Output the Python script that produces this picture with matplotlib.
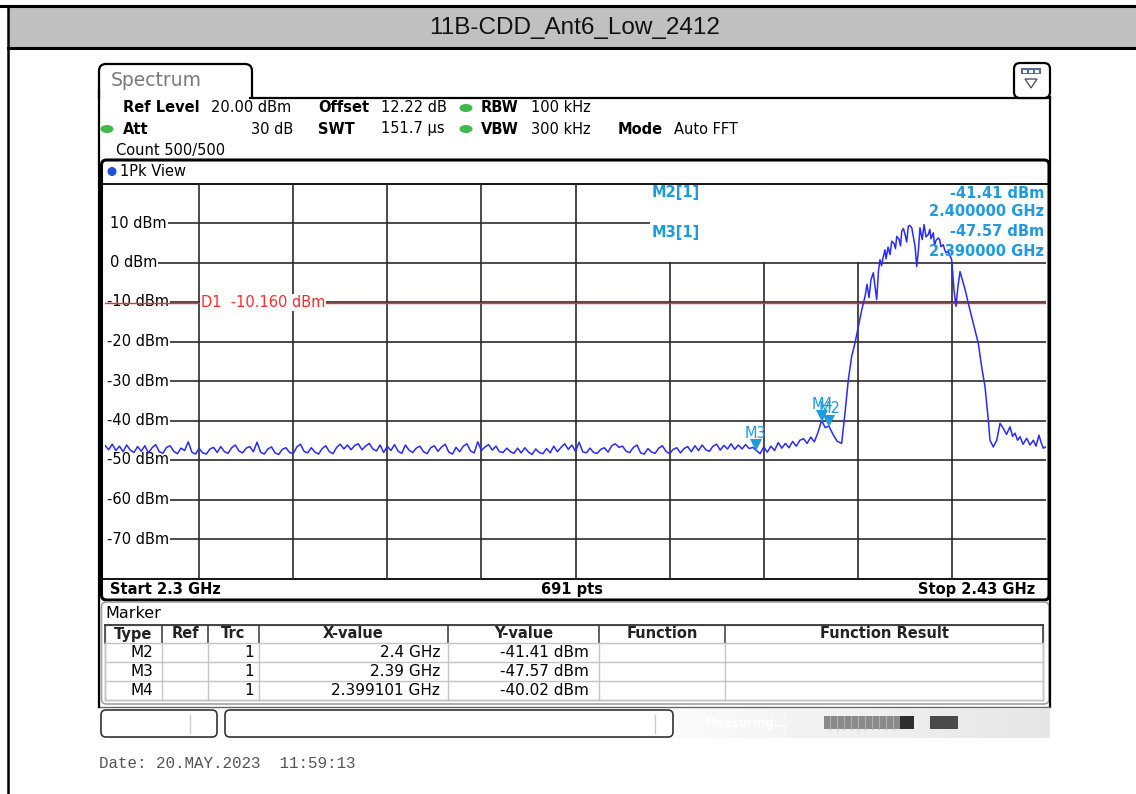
import numpy as np
import matplotlib

matplotlib.use("Agg")
import matplotlib.pyplot as plt
from matplotlib import transforms
from matplotlib.patches import Rectangle, FancyBboxPatch, Ellipse, Polygon

W, H = 1136, 794

TITLE = "11B-CDD_Ant6_Low_2412"

F_START, F_STOP = 2.300, 2.430
REF_LEVEL, BOTTOM_LEVEL = 20.0, -80.0
Y_TICKS = [10, 0, -10, -20, -30, -40, -50, -60, -70]
D1_LEVEL = -10.16

# trace, part 1: 0.5 MHz apart from 2.300 to 2.400 GHz
NOISE_START = 2.300
NOISE_STEP = 0.0005
NOISE_DBM = [
    -46.3, -47.4, -46.0, -47.6, -46.5, -47.9, -46.2, -47.5, -48.1, -46.6,
    -47.8, -46.4, -48.2, -46.9, -46.1, -47.9, -48.3, -46.8, -46.4, -47.8,
    -48.4, -47.0, -47.6, -45.4, -48.0, -48.5, -47.1, -48.2, -48.5, -47.2,
    -46.8, -48.1, -46.6, -47.9, -48.3, -46.9, -46.2, -47.7, -48.2, -47.0,
    -46.6, -47.9, -45.5, -48.0, -48.5, -47.2, -46.7, -48.2, -48.6, -47.3,
    -46.9, -48.1, -48.4, -46.7, -46.0, -47.8, -48.2, -46.9, -48.0, -48.5,
    -47.1, -46.4, -47.9, -48.4, -46.8, -46.0, -47.2, -46.2, -47.4, -46.3,
    -45.9, -47.4, -46.5, -45.8, -47.2, -47.7, -46.2, -48.1, -46.5, -47.6,
    -46.1, -47.8, -48.3, -46.2, -47.5, -48.1, -47.0, -46.5, -47.9, -48.4,
    -46.9, -46.4, -47.8, -46.7, -46.0, -48.0, -48.5, -46.8, -47.9, -46.5,
    -45.9, -47.7, -48.2, -45.4, -47.6, -46.7, -46.1, -47.5, -46.5, -47.9,
    -48.1, -47.0, -47.9, -48.3, -47.0, -48.2, -46.9, -48.0, -48.6, -47.2,
    -48.1, -48.4, -47.1, -48.2, -46.5, -47.9, -46.8, -45.9, -47.3, -46.2,
    -47.8, -45.5, -47.9, -48.2, -47.0, -48.1, -48.3, -47.3, -46.9, -48.0,
    -46.4, -45.9, -46.8, -46.5, -47.8, -48.1, -46.8, -46.2, -48.2, -48.5,
    -47.1, -48.0, -48.3, -47.0, -46.4, -47.8, -48.4, -47.3, -46.9, -48.2,
    -47.1, -46.6, -47.9, -46.4, -47.6, -46.2, -47.4, -47.8, -46.5, -46.0,
    -47.5, -46.3, -47.2, -45.9, -47.3, -46.2, -47.2, -46.1, -47.1, -46.8,
    -47.6, -48.4, -46.7, -48.0, -46.5, -47.6, -45.6, -47.0, -45.8, -46.9,
    -45.3, -46.5, -45.0, -44.6, -45.8, -44.2, -45.4, -43.0, -40.0, -41.8,
    -41.4,
]

# trace, part 2: channel and skirts, point by point
SIGNAL_GHZ = [
    2.40057, 2.40112, 2.40177, 2.40223, 2.40269, 2.40315, 2.40361, 2.40407,
    2.40454, 2.40500, 2.40527, 2.40555, 2.40582, 2.40614, 2.40638, 2.40661,
    2.40686, 2.40707, 2.40728, 2.40749, 2.40776, 2.40790, 2.40818, 2.40845,
    2.40869, 2.40901, 2.40920, 2.40938, 2.40970, 2.40990, 2.41007, 2.41030,
    2.41053, 2.41075, 2.41098, 2.41120, 2.41145, 2.41191, 2.41214, 2.41239,
    2.41259, 2.41290, 2.41315, 2.41342, 2.41374, 2.41395, 2.41411, 2.41443,
    2.41460, 2.41480, 2.41512, 2.41530, 2.41549, 2.41581, 2.41600, 2.41618,
    2.41650, 2.41697, 2.41729, 2.41756, 2.41784, 2.41812, 2.41857, 2.41894,
    2.41926, 2.41973, 2.42019, 2.42064, 2.42111, 2.42157, 2.42203, 2.42226,
    2.42272, 2.42319, 2.42365, 2.42410, 2.42455, 2.42503, 2.42538, 2.42572,
    2.42607, 2.42641, 2.42683, 2.42734, 2.42779, 2.42825, 2.42862, 2.42903,
    2.42931, 2.42963, 2.43000,
]
SIGNAL_DBM = [
    -43.5, -45.2, -45.8, -38.1, -29.7, -23.8, -20.4, -16.2,
    -12.0, -8.6, -5.5, -8.9, -4.4, -2.6, -6.0, -9.4,
    -2.0, 0.7, -0.8, 1.2, 3.2, 0.9, 3.9, 2.0,
    5.4, 4.8, 3.5, 6.6, 5.9, 4.2, 7.9, 8.6,
    7.1, 5.2, 9.2, 9.4, 8.8, 4.1, -1.0, 3.5,
    8.8, 5.8, 9.6, 6.5, 7.1, 8.4, 6.0, 7.5,
    4.2, 5.6, 6.2, 5.8, 4.0, 4.5, 3.2, 2.5,
    2.8, 0.7, -6.9, -11.1, -6.0, -2.3, -5.2, -7.7,
    -10.3, -13.7, -17.1, -20.4, -26.4, -31.4, -39.9, -45.0,
    -46.7, -45.0, -40.7, -42.0, -43.5, -41.6, -44.0, -43.2,
    -45.0, -44.1, -46.0, -44.5, -46.2, -45.0, -46.5, -43.7,
    -45.5, -47.0, -46.7,
]

MARKER_NAMES = ["M2", "M3", "M4"]
MARKER_GHZ = [2.4, 2.39, 2.399101]
MARKER_DBM = [-41.41, -47.57, -40.02]
MARKER_X_TEXT = ["2.4 GHz", "2.39 GHz", "2.399101 GHz"]
MARKER_Y_TEXT = ["-41.41 dBm", "-47.57 dBm", "-40.02 dBm"]

TABLE_HEADERS = ["Type", "Ref", "Trc", "X-value", "Y-value", "Function", "Function Result"]

BLUE_TXT = "#1e9ae0"
TRACE_BLUE = "#2a2aff"
D1_RED = "#ff2b2b"
GREEN = "#3dbb4a"
GRID = "#2b2b2b"

fig = plt.figure(figsize=(W / 100, H / 100), dpi=100)
bg = fig.add_axes([0, 0, 1, 1], zorder=0)
bg.set_xlim(0, W)
bg.set_ylim(H, 0)
bg.axis("off")

# pixel transform usable from every axes
PX = transforms.Affine2D().scale(1 / W, -1 / H).translate(0, 1) + fig.transFigure


def hline(x0, x1, y, **kw):
    bg.plot([x0, x1], [y, y], **kw)


def vline(x, y0, y1, **kw):
    bg.plot([x, x], [y0, y1], **kw)


# page frame + title band
bg.add_patch(Rectangle((8, 6), W - 8, 42, facecolor="#c0c0c0", edgecolor="none"))
hline(0, W, 6, color="black", lw=2.2)
hline(8, W, 48, color="black", lw=2.2)
vline(8, 6, H, color="black", lw=1.8)
bg.text(575, 28, TITLE, ha="center", va="center", fontsize=17.5,
        family="Liberation Sans", color="#111111")

# instrument window, tab and outline
bg.add_patch(FancyBboxPatch((99, 64), 153, 44, boxstyle="round,pad=0,rounding_size=7",
                            facecolor="white", edgecolor="black", lw=1.6))
bg.add_patch(Rectangle((97, 98.5), 157, 14, facecolor="white", edgecolor="none", zorder=3))
bg.text(111, 81, "Spectrum", fontsize=13.5, color="#7a7a7a", va="center", zorder=4)
hline(250, 1050, 97.5, color="black", lw=1.6, zorder=4)
vline(99, 90, 707, color="black", lw=1.6, zorder=4)
vline(1050, 97, 707, color="black", lw=1.6)
hline(99, 1050, 707, color="#666666", lw=1.0)

# menu icon top right
bg.add_patch(FancyBboxPatch((1014, 63), 36, 35, boxstyle="round,pad=0,rounding_size=6",
                            facecolor="white", edgecolor="black", lw=1.6, zorder=5))
bg.add_patch(Rectangle((1021, 68), 20, 6, facecolor="#5a6a9a", edgecolor="none", zorder=6))
for k in range(3):
    bg.add_patch(Rectangle((1023 + k * 6, 69.5), 4, 3, facecolor="white", edgecolor="none", zorder=7))
bg.add_patch(Polygon([[1025, 79], [1037, 79], [1031, 88]], closed=True, facecolor="white",
                     edgecolor="#556", lw=1.0, zorder=6))

# settings block
row1, row2, row3 = 108, 129, 150
fs = 10.5
bg.text(123, row1, "Ref Level", fontsize=fs, fontweight="bold", va="center")
bg.text(211, row1, "20.00 dBm", fontsize=fs, va="center")
bg.text(318, row1, "Offset", fontsize=fs, fontweight="bold", va="center")
bg.text(381, row1, "12.22 dB", fontsize=fs, va="center")
bg.text(481, row1, "RBW", fontsize=fs, fontweight="bold", va="center")
bg.text(531, row1, "100 kHz", fontsize=fs, va="center")
bg.text(123, row2, "Att", fontsize=fs, fontweight="bold", va="center")
bg.text(293, row2, "30 dB", fontsize=fs, va="center", ha="right")
bg.text(318, row2, "SWT", fontsize=fs, fontweight="bold", va="center")
bg.text(381, row2, "151.7 µs", fontsize=fs, va="center")
bg.text(481, row2, "VBW", fontsize=fs, fontweight="bold", va="center")
bg.text(531, row2, "300 kHz", fontsize=fs, va="center")
bg.text(618, row2, "Mode", fontsize=fs, fontweight="bold", va="center")
bg.text(674, row2, "Auto FFT", fontsize=fs, va="center")
bg.text(116, row3, "Count 500/500", fontsize=fs, va="center")
for cx, cy in [(466, row1), (107, row2), (466, row2)]:
    bg.add_patch(Ellipse((cx, cy), 13, 8, facecolor=GREEN, edgecolor="none"))

# diagram frame
bg.add_patch(FancyBboxPatch((101.5, 160), 947.5, 440, boxstyle="round,pad=0,rounding_size=5",
                            facecolor="white", edgecolor="black", lw=2.2))
bg.add_patch(Ellipse((112, 171.5), 9, 9, facecolor="#1f4fd8", edgecolor="none"))
bg.text(120, 171.5, "1Pk View", fontsize=fs, va="center")
hline(102, 1048, 183.5, color="black", lw=1.3)
hline(102, 1048, 578.5, color="black", lw=1.3)
bg.text(110, 589.5, "Start 2.3 GHz", fontsize=fs, fontweight="bold", va="center")
bg.text(572, 589.5, "691 pts", fontsize=fs, fontweight="bold", va="center", ha="center")
bg.text(1035, 589.5, "Stop 2.43 GHz", fontsize=fs, fontweight="bold", va="center", ha="right")

# spectrum axes
ax = fig.add_axes([105 / W, 1 - 578.5 / H, 941 / W, 395 / H], zorder=1)
ax.set_xlim(F_START, F_STOP)
ax.set_ylim(BOTTOM_LEVEL, REF_LEVEL)
ax.axis("off")
ax.patch.set_alpha(0)

step = (F_STOP - F_START) / 10
for i in range(1, 10):
    ax.axvline(F_START + i * step, color=GRID, lw=1.2, zorder=1)

level_labels = []
for lvl in Y_TICKS:
    t = ax.annotate(f"{lvl} dBm", xy=(F_START, lvl), xytext=(5 if lvl >= 0 else 2, 0),
                    textcoords="offset pixels", fontsize=fs, va="center", ha="left", zorder=1.5)
    level_labels.append((lvl, t))

# horizontal grid lines start right after their labels
fig.canvas.draw()
renderer = fig.canvas.get_renderer()
to_data = ax.transData.inverted()
for lvl, t in level_labels:
    bb = t.get_window_extent(renderer)
    x_from = to_data.transform((bb.x1 + 1, bb.y0))[0]
    ax.hlines(lvl, x_from, F_STOP, color=GRID, lw=1.2, zorder=1)

# marker readout box (white, hides grid) under the trace
ax.add_patch(Rectangle((650, 184.5), 396, 77.5, transform=PX, facecolor="white",
                       edgecolor="none", zorder=1.8, clip_on=False))

ax.axhline(D1_LEVEL, color=D1_RED, lw=1.0, zorder=1.7)
ax.annotate(f"D1  {D1_LEVEL:.3f} dBm", xy=(F_START + step, D1_LEVEL), xytext=(2, 0),
            textcoords="offset pixels", fontsize=fs, color=D1_RED, va="center", ha="left",
            bbox=dict(facecolor="white", edgecolor="none", pad=0.5), zorder=2)

noise_f = NOISE_START + NOISE_STEP * np.arange(len(NOISE_DBM))
trace_f = np.concatenate([noise_f, SIGNAL_GHZ])
trace_l = np.concatenate([NOISE_DBM, SIGNAL_DBM])
ax.plot(trace_f, trace_l, color=TRACE_BLUE, lw=1.1, zorder=3)

tri_tr = transforms.offset_copy(ax.transData, fig=fig, x=0, y=5, units="dots")
label_offsets = {"M2": (1, 10), "M3": (-1, 9), "M4": (0, 9)}
for name, f, l in zip(MARKER_NAMES, MARKER_GHZ, MARKER_DBM):
    ax.plot([f], [l], marker="v", markersize=8, color=BLUE_TXT, transform=tri_tr,
            zorder=4, clip_on=False, markeredgewidth=0)
    ax.annotate(name, xy=(f, l), xytext=label_offsets[name], textcoords="offset pixels",
                fontsize=10.5, color=BLUE_TXT, ha="center", va="bottom", zorder=4)

# marker readouts
mfs = 10.5
ax.text(652, 193, "M2[1]", transform=PX, fontsize=mfs, fontweight="bold", color=BLUE_TXT,
        va="center", zorder=4)
ax.text(652, 233, "M3[1]", transform=PX, fontsize=mfs, fontweight="bold", color=BLUE_TXT,
        va="center", zorder=4)
for yy, txt in [(193, MARKER_Y_TEXT[0]), (212, "2.400000 GHz"),
                (232, MARKER_Y_TEXT[1]), (252, "2.390000 GHz")]:
    ax.text(1044, yy, txt, transform=PX, fontsize=mfs, fontweight="bold", color=BLUE_TXT,
            va="center", ha="right", zorder=4)

# marker table
bg.add_patch(FancyBboxPatch((101.5, 602), 947.5, 102, boxstyle="round,pad=0,rounding_size=5",
                            facecolor="white", edgecolor="#a0a0a0", lw=1.2))
bg.text(105, 613, "Marker", fontsize=11.5, va="center")
col_edges = [105, 162, 208, 259, 448, 599, 725, 1043]
row_edges = [625, 643, 662, 681, 700]
bg.add_patch(Rectangle((105, 625), 938, 75, facecolor="white", edgecolor="#b0b0b0", lw=1.0))
hline(105, 1043, 625, color="#444444", lw=1.4)
for x in col_edges:
    vline(x, 625, 643, color="#444444", lw=1.2)
    vline(x, 643, 700, color="#c4c4c4", lw=1.0)
for y in row_edges[1:]:
    hline(105, 1043, y, color="#c4c4c4", lw=1.0)
for k, head in enumerate(TABLE_HEADERS):
    cx = (col_edges[k] + col_edges[k + 1]) / 2
    bg.text(cx, 634, head, fontsize=10.5, fontweight="bold",
            ha="center", va="center", color="#222222")
tfs = 11
for r, name in enumerate(MARKER_NAMES):
    cy = (row_edges[r + 1] + row_edges[r + 2]) / 2
    bg.text(col_edges[1] - 9, cy, name, fontsize=tfs, ha="right", va="center")
    bg.text(col_edges[3] - 5, cy, "1", fontsize=tfs, ha="right", va="center")
    bg.text(col_edges[4] - 8, cy, MARKER_X_TEXT[r], fontsize=tfs, ha="right", va="center")
    bg.text(col_edges[5] - 10, cy, MARKER_Y_TEXT[r], fontsize=tfs, ha="right", va="center")

# status bar
bg.add_patch(FancyBboxPatch((101, 710), 116, 27, boxstyle="round,pad=0,rounding_size=5",
                            facecolor="white", edgecolor="#333333", lw=1.2))
vline(190, 715, 733, color="#cccccc", lw=1.0)
bg.add_patch(FancyBboxPatch((225, 710), 448, 27, boxstyle="round,pad=0,rounding_size=5",
                            facecolor="white", edgecolor="#333333", lw=1.2))
vline(655, 715, 733, color="#cccccc", lw=1.0)
grad = np.linspace(0.98, 0.90, 64).reshape(1, -1)
bg.imshow(np.repeat(grad, 2, axis=0), cmap="gray", vmin=0, vmax=1, aspect="auto",
          extent=(676, 1050, 738, 709), zorder=0.5)
bg.text(705, 723, "Measuring...", fontsize=8.5, color="white", va="center", fontweight="bold")
bg.add_patch(Rectangle((824, 716), 76, 13, facecolor="#8a8a8a", edgecolor="none"))
for k in range(10):
    vline(830 + k * 7, 716, 729, color="#b0b0b0", lw=0.8)
bg.add_patch(Rectangle((900, 716), 14, 13, facecolor="#2e2e2e", edgecolor="none"))
bg.add_patch(Rectangle((930, 716), 28, 13, facecolor="#4a4a4a", edgecolor="none"))

bg.text(99, 763, "Date: 20.MAY.2023  11:59:13", fontsize=11.4, family="Liberation Mono",
        color="#555555", va="center")

fig.savefig("out.png", dpi=100)
